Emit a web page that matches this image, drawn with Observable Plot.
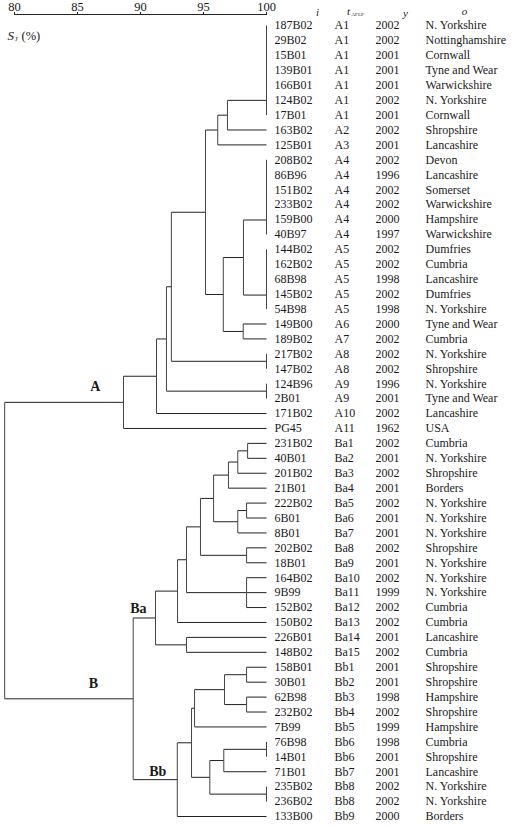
<!DOCTYPE html>
<html><head><meta charset="utf-8">
<script src="https://cdn.jsdelivr.net/npm/d3@7"></script>
<script src="https://cdn.jsdelivr.net/npm/@observablehq/plot@0.6"></script>
<style>body{margin:0;background:#fff}</style>
</head><body><div id="chart"></div>
<script>
const ids = ["187B02","29B02","15B01","139B01","166B01","124B02","17B01","163B02","125B01","208B02","86B96","151B02","233B02","159B00","40B97","144B02","162B02","68B98","145B02","54B98","149B00","189B02","217B02","147B02","124B96","2B01","171B02","PG45","231B02","40B01","201B02","21B01","222B02","6B01","8B01","202B02","18B01","164B02","9B99","152B02","150B02","226B01","148B02","158B01","30B01","62B98","232B02","7B99","76B98","14B01","71B01","235B02","236B02","133B00"];
const types = ["A1","A1","A1","A1","A1","A1","A1","A2","A3","A4","A4","A4","A4","A4","A4","A5","A5","A5","A5","A5","A6","A7","A8","A8","A9","A9","A10","A11","Ba1","Ba2","Ba3","Ba4","Ba5","Ba6","Ba7","Ba8","Ba9","Ba10","Ba11","Ba12","Ba13","Ba14","Ba15","Bb1","Bb2","Bb3","Bb4","Bb5","Bb6","Bb6","Bb7","Bb8","Bb8","Bb9"];
const years = [2002,2002,2001,2001,2001,2002,2001,2002,2001,2002,1996,2002,2002,2000,1997,2002,2002,1998,2002,1998,2000,2002,2002,2002,1996,2001,2002,1962,2002,2001,2002,2001,2002,2001,2001,2002,2001,2002,1999,2002,2002,2001,2002,2001,2001,1998,2002,1999,1998,2001,2001,2002,2002,2000];
const origins = ["N. Yorkshire","Nottinghamshire","Cornwall","Tyne and Wear","Warwickshire","N. Yorkshire","Cornwall","Shropshire","Lancashire","Devon","Lancashire","Somerset","Warwickshire","Hampshire","Warwickshire","Dumfries","Cumbria","Lancashire","Dumfries","N. Yorkshire","Tyne and Wear","Cumbria","N. Yorkshire","Shropshire","N. Yorkshire","Tyne and Wear","Lancashire","USA","Cumbria","N. Yorkshire","Shropshire","Borders","N. Yorkshire","N. Yorkshire","N. Yorkshire","Shropshire","N. Yorkshire","N. Yorkshire","N. Yorkshire","Cumbria","Cumbria","Lancashire","Cumbria","Shropshire","Shropshire","Hampshire","Shropshire","Hampshire","Cumbria","Shropshire","Lancashire","N. Yorkshire","N. Yorkshire","Borders"];

// merges: [node name, child..., similarity S_J (%)]
const merges = [
  ["a1a","187B02","29B02",100],["a1b","a1a","15B01",100],["a1c","a1b","139B01",100],
  ["a1d","a1c","166B01",100],["a1e","a1d","124B02",100],["A1","a1e","17B01",100],
  ["n1","A1","163B02",96.9],["n2","n1","125B01",96.13],
  ["a4a","208B02","86B96",100],["a4b","a4a","151B02",100],["a4c","a4b","233B02",100],
  ["a4d","a4c","159B00",100],["A4","a4d","40B97",100],
  ["a5a","144B02","162B02",100],["a5b","a5a","68B98",100],["a5c","a5b","145B02",100],["A5","a5c","54B98",100],
  ["n45","A4","A5",98.17],["n67","149B00","189B02",98.15],["n4567","n45","n67",96.57],
  ["n3","n2","n4567",95.16],["A8","217B02","147B02",100],["n4","n3","A8",92.45],
  ["A9","124B96","2B01",100],["n5","n4","A9",92.06],["n6","n5","171B02",91.27],
  ["A","n6","PG45",88.65],
  ["b12","231B02","40B01",98.5],["b123","b12","201B02",97.72],["b1234","b123","21B01",96.98],
  ["b56","222B02","6B01",98.42],["b567","b56","8B01",97.72],["b1_7","b1234","b567",95.8],
  ["b89","202B02","18B01",98.42],["b1_9","b1_7","b89",94.76],
  ["b10_12","164B02","9B99","152B02",98.42],["b1_12","b1_9","b10_12",93.65],
  ["b1_13","b1_12","150B02",92.94],["b1415","226B01","148B02",93.65],["Ba","b1_13","b1415",91.19],
  ["bb12","158B01","30B01",98.42],["bb34","62B98","232B02",98.42],["bb1_4","bb12","bb34",96.67],
  ["bb1_5","bb1_4","7B99",94.29],["bb6","76B98","14B01",100],["bb67","bb6","71B01",96.61],
  ["bb8","235B02","236B02",100],["bb6_8","bb67","bb8",95.5],["bb1_8","bb1_5","bb6_8",94.05],
  ["Bb","bb1_8","133B00",92.92],["B","Ba","Bb",89.42],["root","A","B",79.22]
];
const tickValues = [80,85,90,95,100];
const cladeNames = ["A","B","Ba","Bb"];

// build tree geometry
const nodes = new Map();
ids.forEach((id, i) => nodes.set(id, {x: 100, y: i}));
const verticals = [], horizontals = [];
for (const m of merges) {
  const name = m[0], sim = m[m.length - 1];
  const kids = m.slice(1, -1).map(k => nodes.get(k));
  const ys = kids.map(k => k.y);
  const y = (kids[0].y + kids[kids.length - 1].y) / 2;
  verticals.push({x: sim, y1: Math.min(...ys), y2: Math.max(...ys)});
  kids.forEach(k => { if (k.x !== sim) horizontals.push({x1: k.x, x2: sim, y: k.y}); });
  nodes.set(name, {x: sim, y});
}
const leaves = ids.map((id, i) => ({id, type: types[i], year: years[i], origin: origins[i], row: i}));
const clades = cladeNames.map(n => ({name: n, ...nodes.get(n)}));
const cl = n => clades.filter(c => c.name === n);

const serif = "'Liberation Serif','Times New Roman',serif";
const ink = "#1a1a1a";
const leafX = () => 100;
const hdr = {x: leafX, frameAnchor: "top", lineAnchor: "middle", text: d => d, fill: ink};
const ttl = {frameAnchor: "top-left", lineAnchor: "middle", textAnchor: "start", text: d => d, fill: ink};

const chart = Plot.plot({
  width: 512, height: 826,
  marginTop: 14, marginLeft: 14, marginRight: 246, marginBottom: 10,
  style: {fontFamily: serif, fontSize: "12px", background: "white", color: ink},
  x: {domain: [80, 100], range: [14, 266]},
  y: {domain: [0, 53], range: [25, 816], axis: null},
  marks: [
    Plot.frame({anchor: "top", stroke: "#222"}),
    Plot.axisX({anchor: "top", ticks: tickValues, tickSize: 3, tickPadding: 1, label: null, fontSize: 12.5, stroke: "#222", fill: ink}),
    Plot.link(horizontals, {x1: "x1", x2: "x2", y1: "y", y2: "y", stroke: "#222", strokeWidth: 1}),
    Plot.link(verticals, {x1: "x", x2: "x", y1: "y1", y2: "y2", stroke: "#444", strokeWidth: 1}),
    Plot.text(leaves, {x: leafX, y: "row", text: "id", dx: 8, textAnchor: "start", fill: ink}),
    Plot.text(leaves, {x: leafX, y: "row", text: "type", dx: 68, textAnchor: "start", fill: ink}),
    Plot.text(leaves, {x: leafX, y: "row", text: d => String(d.year), dx: 109, textAnchor: "start", fill: ink}),
    Plot.text(leaves, {x: leafX, y: "row", text: "origin", dx: 159, textAnchor: "start", fill: ink}),
    // clade labels
    Plot.text(cl("A"), {x: "x", y: "y", text: "name", textAnchor: "end", dx: -23, dy: -16, fontWeight: "bold", fontSize: 14, fill: ink}),
    Plot.text(cl("B"), {x: "x", y: "y", text: "name", textAnchor: "end", dx: -35, dy: -15, fontWeight: "bold", fontSize: 14, fill: ink}),
    Plot.text(cl("Ba"), {x: "x", y: "y", text: "name", textAnchor: "end", dx: -9, dy: -9, fontWeight: "bold", fontSize: 14, fill: ink}),
    Plot.text(cl("Bb"), {x: "x", y: "y", text: "name", textAnchor: "end", dx: -11, dy: -8.5, fontWeight: "bold", fontSize: 14, fill: ink}),
    // column headers
    Plot.text(["i"], {...hdr, dx: 51, dy: -2, fontStyle: "italic", fontSize: 11}),
    Plot.text(["t"], {...hdr, dx: 82, dy: -3, fontStyle: "italic", fontSize: 11}),
    Plot.text(["AFLP"], {...hdr, dx: 85, dy: 0, textAnchor: "start", fontSize: 5}),
    Plot.text(["y"], {...hdr, dx: 139, dy: -1, fontStyle: "italic", fontSize: 11}),
    Plot.text(["o"], {...hdr, dx: 198, dy: -3, fontStyle: "italic", fontSize: 11}),
    // S_J (%) axis title
    Plot.text(["S"], {...ttl, dx: -7, dy: 21, fontStyle: "italic", fontSize: 13}),
    Plot.text(["J"], {...ttl, dx: 0.5, dy: 24, fontSize: 7}),
    Plot.text(["(%)"], {...ttl, dx: 7, dy: 21, fontSize: 12.5})
  ]
});
document.getElementById("chart").append(chart);
</script>
</body></html>
